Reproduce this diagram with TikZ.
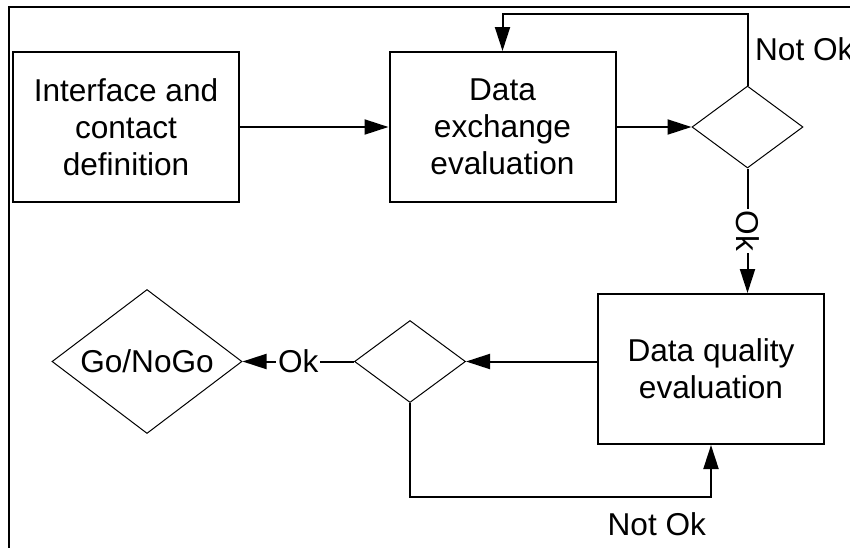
\documentclass[tikz,border=0pt]{standalone}
\usepackage{fontspec}
\setmainfont{Liberation Sans}
\usetikzlibrary{positioning,shapes.geometric,arrows.meta}
\tikzset{
  every node/.style={
    font=\fontsize{15.8pt}{18.5pt}\selectfont
  },
  stage/.style={draw, line width=1pt, minimum width=113pt, minimum height=75pt,
    align=center, inner sep=0pt},
  check/.style={draw, diamond, line width=0.5pt, inner sep=0pt,
    minimum width=55.5pt, minimum height=41pt},
  flow/.style={line width=1pt, -{Triangle[length=12pt,width=7.5pt]}}
}

\begin{document}
\begin{tikzpicture}
      \useasboundingbox (-63pt,-210pt) rectangle (362pt,63.5pt);
      \draw[line width=1pt] (-58.5pt,-220pt) -- (-58.5pt,60pt) -- (380pt,60pt);
      \node [stage] (Iface) {Interface and\\contact\\definition};
      \node [stage, on grid, right=188.25pt of Iface] (Exch) {Data\\exchange\\evaluation};
      \node [check, on grid, right=122.5pt of Exch] (ChkA) {};
      \node [stage, on grid, below left=121pt and 18.25pt of ChkA] (Qual) {Data quality\\evaluation};
      \node [check, on grid, above left=3.75pt and 150.5pt of Qual] (ChkB) {};
      \node [check, on grid, left=131.5pt of ChkB, aspect=1.32,
        minimum width=95pt, minimum height=72pt] (Go) {Go/NoGo};
      \draw[flow] (Iface) -- (Exch);
      \draw[flow] (Exch) -- (ChkA);
      \draw[flow] (ChkA.north) -- node[right]{Not Ok} ++(0,36pt) -| (Exch.north);
      \draw[flow] (ChkA.south) -- node[fill=white, rotate=-90, inner sep=1pt]{Ok} (ChkA.south |- Qual.north);
      \draw[flow] (Qual.west |- ChkB) -- (ChkB.east);
      \draw[flow] (ChkB.west) -- node[fill=white, inner sep=1pt]{Ok} (Go.east);
      \draw[flow] (ChkB.south) -- ++(0,-47pt) -| node[pos=0.41, below, yshift=-4pt]{Not Ok} (Qual.south);
    \end{tikzpicture}
\end{document}
